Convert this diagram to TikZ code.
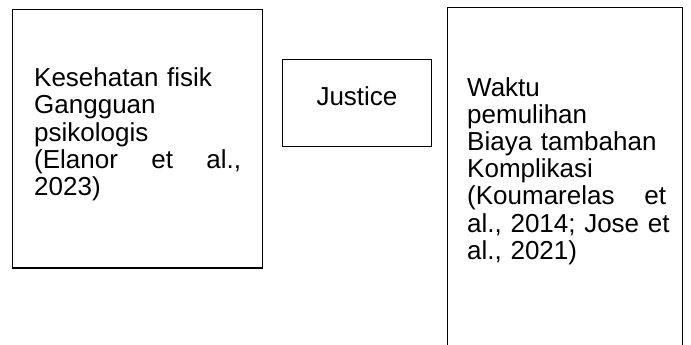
\documentclass[tikz,border=0pt]{standalone}
\usepackage{fontspec}
\setmainfont{Liberation Sans}
\usepackage{tikz}
\usetikzlibrary{positioning}
\frenchspacing

\begin{document}
\begin{tikzpicture}[
      x=1pt,y=1pt,
      kotak/.style={draw,line width=1.2pt,inner sep=0pt,outer sep=0pt,
                    anchor=north west},
      teks/.style={font=\fontsize{26}{27.2}\selectfont,inner sep=0pt,
                   align=left,anchor=base west}]
    \useasboundingbox (0,0) rectangle (691,-345);
    \clip (0,0) rectangle (691,-345);
    \node[kotak,minimum width=250pt,minimum height=258.5pt] (kiri) at (12.5,-9.5) {};
    \node[kotak,minimum width=149pt,minimum height=87.5pt] (tengah) at (282.7,-59.3) {};
    \node[kotak,minimum width=235pt,minimum height=360pt] (kanan) at (447.5,-7.5) {};
    \node[teks,text width=207pt] (tkiri) at (34,-86.7)
      {Kesehatan fisik\\ Gangguan\\ psikologis\\ (Elanor\hfill et\hfill al.,\\ 2023)};
    \node[teks,anchor=base] (ttengah) at (357,-105) {Justice};
    \node[teks,text width=199pt] (tkanan) at (467,-96)
      {Waktu\\ pemulihan\\ Biaya tambahan\\ Komplikasi\\ (Koumarelas\hfill et\\
       \mbox{al., 2014; Jose et}\\ al., 2021)};
  \end{tikzpicture}
\end{document}
